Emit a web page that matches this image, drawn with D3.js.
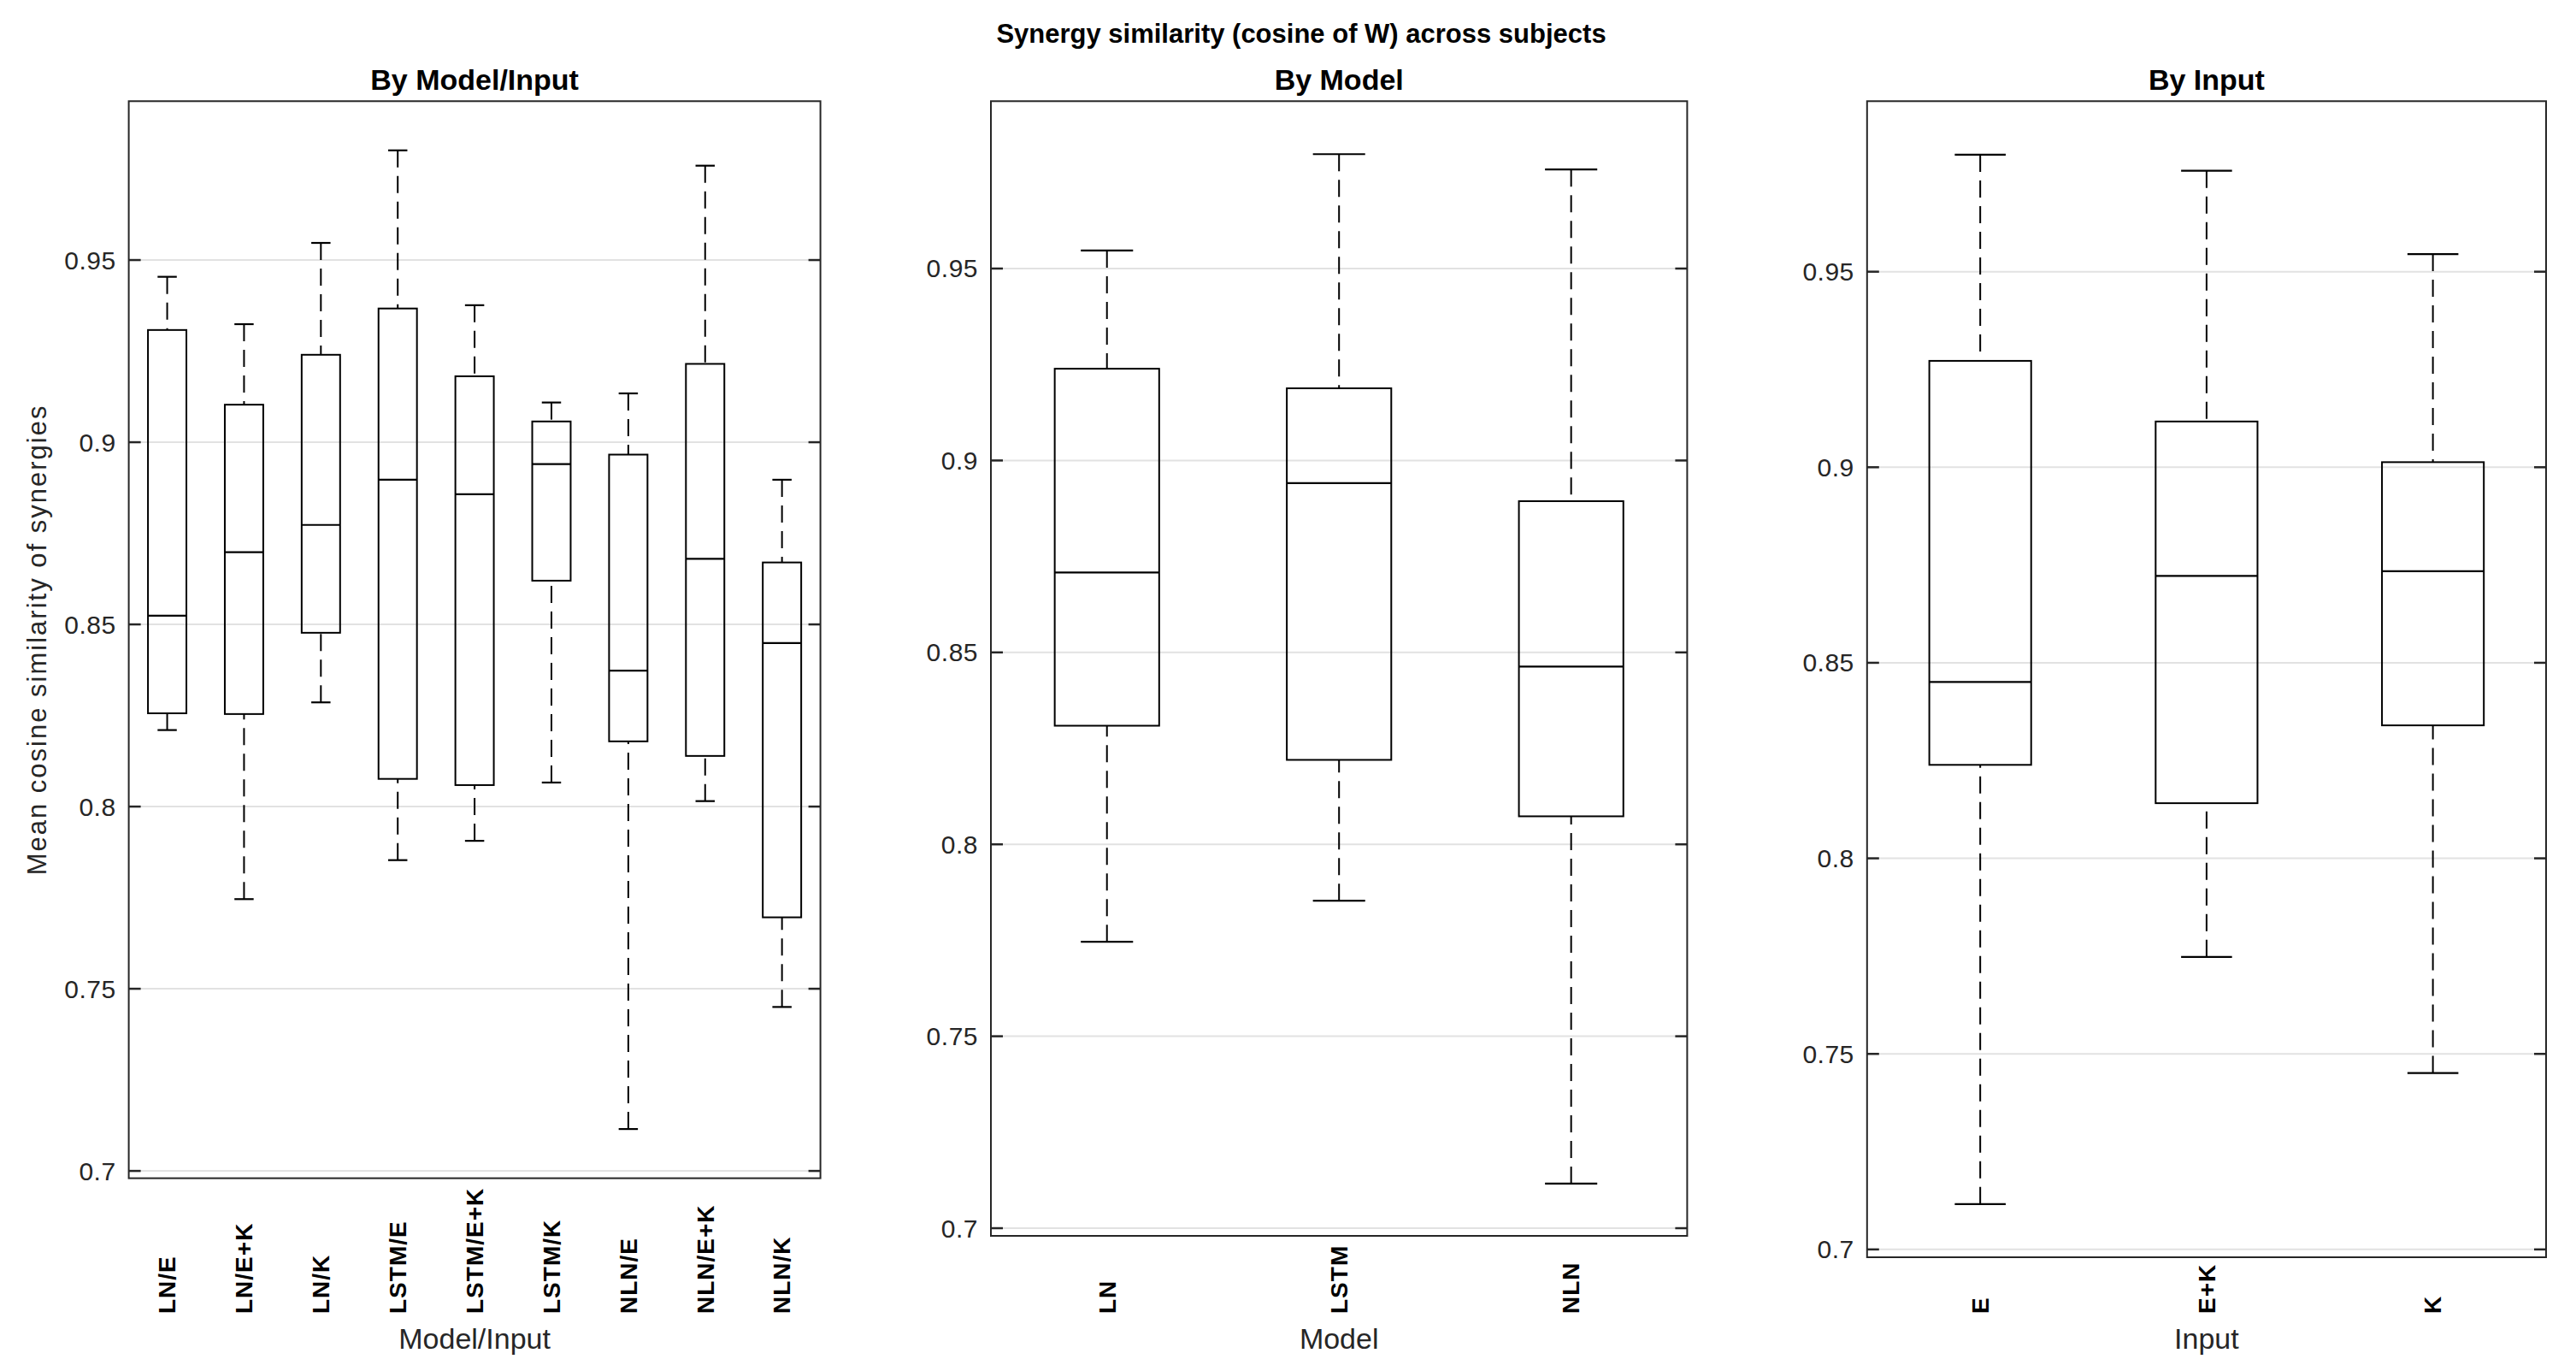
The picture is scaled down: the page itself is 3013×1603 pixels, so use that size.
<!DOCTYPE html>
<html>
<head>
<meta charset="utf-8">
<script src="https://cdn.jsdelivr.net/npm/d3@7/dist/d3.min.js"></script>
<style>
  html, body { margin: 0; padding: 0; background: #fff; }
  svg { display: block; }
  text { font-family: "Liberation Sans", Arial, Helvetica, sans-serif; }
</style>
</head>
<body>
<script>
// ---------------- DATA ----------------
const suptitle = "Synergy similarity (cosine of W) across subjects";
const yTickValues = [0.7, 0.75, 0.8, 0.85, 0.9, 0.95];
const yTickLabels = ["0.7", "0.75", "0.8", "0.85", "0.9", "0.95"];
const yDomain = [0.698, 0.9936];

// Panel 1: By Model/Input
const miCategories = ["LN/E", "LN/E+K", "LN/K", "LSTM/E", "LSTM/E+K", "LSTM/K", "NLN/E", "NLN/E+K", "NLN/K"];
const miLow    = [0.8210, 0.7746, 0.8286, 0.7853, 0.7906, 0.8066, 0.7115, 0.8015, 0.7450];
const miQ1     = [0.8256, 0.8254, 0.8477, 0.8076, 0.8059, 0.8620, 0.8179, 0.8139, 0.7696];
const miMedian = [0.8524, 0.8698, 0.8773, 0.8897, 0.8857, 0.8940, 0.8373, 0.8680, 0.8449];
const miQ3     = [0.9308, 0.9103, 0.9240, 0.9367, 0.9181, 0.9057, 0.8966, 0.9215, 0.8670];
const miHigh   = [0.9454, 0.9324, 0.9547, 0.9801, 0.9376, 0.9109, 0.9134, 0.9759, 0.8897];

// Panel 2: By Model
const mCategories = ["LN", "LSTM", "NLN"];
const mLow    = [0.7746, 0.7853, 0.7116];
const mQ1     = [0.8309, 0.8220, 0.8073];
const mMedian = [0.8708, 0.8941, 0.8463];
const mQ3     = [0.9239, 0.9188, 0.8894];
const mHigh   = [0.9547, 0.9798, 0.9758];

// Panel 3: By Input
const iCategories = ["E", "E+K", "K"];
const iLow    = [0.7116, 0.7748, 0.7451];
const iQ1     = [0.8239, 0.8141, 0.8340];
const iMedian = [0.8451, 0.8722, 0.8734];
const iQ3     = [0.9272, 0.9117, 0.9013];
const iHigh   = [0.9799, 0.9758, 0.9545];

// ---------------- LAYOUT ----------------
const W = 3013, H = 1603;
const panels = [
  { title: "By Model/Input", xlabel: "Model/Input", ylabel: "Mean cosine similarity of synergies",
    cats: miCategories, low: miLow, q1: miQ1, med: miMedian, q3: miQ3, high: miHigh,
    left: 150.6, right: 959.6, top: 118.3, bottom: 1377.6, boxFrac: 0.5 },
  { title: "By Model", xlabel: "Model", ylabel: null,
    cats: mCategories, low: mLow, q1: mQ1, med: mMedian, q3: mQ3, high: mHigh,
    left: 1159, right: 1973.4, top: 118.3, bottom: 1445, boxFrac: 0.45 },
  { title: "By Input", xlabel: "Input", ylabel: null,
    cats: iCategories, low: iLow, q1: iQ1, med: iMedian, q3: iQ3, high: iHigh,
    left: 2183.8, right: 2978, top: 118.3, bottom: 1470, boxFrac: 0.45 }
];

const axisColor = "#262626";
const gridColor = "#e2e2e2";

const svg = d3.select("body").append("svg")
  .attr("width", W).attr("height", H)
  .attr("viewBox", `0 0 ${W} ${H}`);
svg.append("rect").attr("width", W).attr("height", H).attr("fill", "#fff");

svg.append("text")
  .attr("x", 1522).attr("y", 50)
  .attr("text-anchor", "middle")
  .attr("font-size", 31).attr("font-weight", "bold").attr("fill", "#000")
  .text(suptitle);

panels.forEach(p => {
  const g = svg.append("g");
  const x = d3.scaleBand().domain(p.cats).range([p.left, p.right]).paddingInner(0).paddingOuter(0);
  const y = d3.scaleLinear().domain(yDomain).range([p.bottom, p.top]);
  const bw = x.bandwidth() * p.boxFrac;
  const cw = bw / 2;
  const cx = c => x(c) + x.bandwidth() / 2;

  // grid
  g.append("g").selectAll("line").data(yTickValues).join("line")
    .attr("x1", p.left).attr("x2", p.right)
    .attr("y1", d => y(d)).attr("y2", d => y(d))
    .attr("stroke", gridColor).attr("stroke-width", 2);

  // boxes
  const rows = p.cats.map((c, i) => ({ c, low: p.low[i], q1: p.q1[i], med: p.med[i], q3: p.q3[i], high: p.high[i] }));
  const bg = g.append("g").selectAll("g").data(rows).join("g");
  // whiskers (dashed)
  bg.append("line")
    .attr("x1", d => cx(d.c)).attr("x2", d => cx(d.c))
    .attr("y1", d => y(d.high)).attr("y2", d => y(d.q3))
    .attr("stroke", "#000").attr("stroke-width", 2).attr("stroke-dasharray", "20,10");
  bg.append("line")
    .attr("x1", d => cx(d.c)).attr("x2", d => cx(d.c))
    .attr("y1", d => y(d.low)).attr("y2", d => y(d.q1))
    .attr("stroke", "#000").attr("stroke-width", 2).attr("stroke-dasharray", "20,10");
  // caps
  ["high", "low"].forEach(k => {
    bg.append("line")
      .attr("x1", d => cx(d.c) - cw / 2).attr("x2", d => cx(d.c) + cw / 2)
      .attr("y1", d => y(d[k])).attr("y2", d => y(d[k]))
      .attr("stroke", "#000").attr("stroke-width", 2.2);
  });
  // box
  bg.append("rect")
    .attr("x", d => cx(d.c) - bw / 2).attr("width", bw)
    .attr("y", d => y(d.q3)).attr("height", d => y(d.q1) - y(d.q3))
    .attr("fill", "none").attr("stroke", "#000").attr("stroke-width", 2);
  // median
  bg.append("line")
    .attr("x1", d => cx(d.c) - bw / 2).attr("x2", d => cx(d.c) + bw / 2)
    .attr("y1", d => y(d.med)).attr("y2", d => y(d.med))
    .attr("stroke", "#000").attr("stroke-width", 2.2);

  // frame
  g.append("rect")
    .attr("x", p.left).attr("y", p.top)
    .attr("width", p.right - p.left).attr("height", p.bottom - p.top)
    .attr("fill", "none").attr("stroke", axisColor).attr("stroke-width", 2);

  // y ticks left and right (inside)
  const tg = g.append("g");
  tg.selectAll("line.l").data(yTickValues).join("line").attr("class", "l")
    .attr("x1", p.left).attr("x2", p.left + 14)
    .attr("y1", d => y(d)).attr("y2", d => y(d))
    .attr("stroke", axisColor).attr("stroke-width", 2.5);
  tg.selectAll("line.r").data(yTickValues).join("line").attr("class", "r")
    .attr("x1", p.right - 14).attr("x2", p.right)
    .attr("y1", d => y(d)).attr("y2", d => y(d))
    .attr("stroke", axisColor).attr("stroke-width", 2.5);
  tg.selectAll("text").data(yTickValues).join("text")
    .attr("x", p.left - 15).attr("y", d => y(d)).attr("dy", "0.35em")
    .attr("text-anchor", "end").attr("font-size", 30).attr("fill", axisColor)
    .attr("letter-spacing", 0.5)
    .text((d, i) => yTickLabels[i]);

  // x tick labels (rotated)
  g.append("g").selectAll("text").data(p.cats).join("text")
    .attr("transform", c => `translate(${cx(c)},1536) rotate(-90)`)
    .attr("dy", "0.35em")
    .attr("text-anchor", "start").attr("font-size", 28).attr("font-weight", "bold").attr("fill", "#000")
    .attr("letter-spacing", 1)
    .text(c => c);

  // title
  g.append("text")
    .attr("x", (p.left + p.right) / 2).attr("y", 105)
    .attr("text-anchor", "middle").attr("font-size", 34).attr("font-weight", "bold").attr("fill", "#000")
    .text(p.title);

  // x label
  g.append("text")
    .attr("x", (p.left + p.right) / 2).attr("y", 1577)
    .attr("text-anchor", "middle").attr("font-size", 34).attr("fill", axisColor)
    .text(p.xlabel);

  // y label
  if (p.ylabel) {
    g.append("text")
      .attr("transform", `translate(54,${(p.top + p.bottom) / 2}) rotate(-90)`)
      .attr("text-anchor", "middle").attr("font-size", 31).attr("fill", axisColor)
      .attr("letter-spacing", 2)
      .text(p.ylabel);
  }
});
</script>
</body>
</html>
